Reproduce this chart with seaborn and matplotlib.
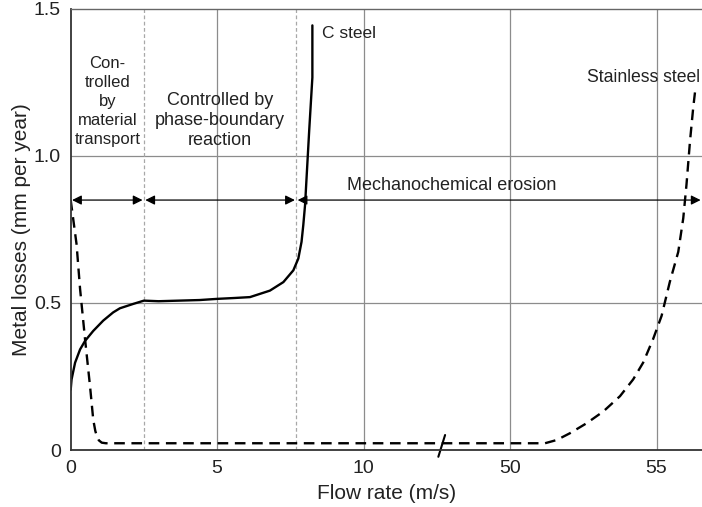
import numpy as np
import matplotlib
matplotlib.use('Agg')
import matplotlib.pyplot as plt
import seaborn as sns

# Values (flow rate in m/s, losses in mm/year)
c_steel_x = [0, 0.03, 0.15, 0.32, 0.49, 0.77, 1.11, 1.45, 1.68, 2.14, 2.5, 3.0, 4.4,
             5.0, 5.6, 6.12, 6.8, 7.26, 7.6, 7.77, 7.88, 7.94, 8.0, 8.14, 8.25, 8.25]
c_steel_y = [0.205, 0.24, 0.297, 0.342, 0.371, 0.405, 0.44, 0.468, 0.482, 0.497, 0.508,
             0.506, 0.51, 0.514, 0.517, 0.52, 0.542, 0.571, 0.611, 0.651, 0.708, 0.765,
             0.833, 1.084, 1.267, 1.444]

stainless_x = [0, 0.2, 0.32, 0.49, 0.66, 0.77, 0.84, 0.89, 0.96, 1.06, 1.2, 10, 47.5,
               51.19, 51.59, 52.04, 52.61, 53.18, 53.75, 54.2, 54.54, 54.88, 55.17,
               55.45, 55.74, 55.91, 56.02, 56.14, 56.25, 56.31]
stainless_y = [0.85, 0.70, 0.548, 0.377, 0.217, 0.103, 0.065, 0.048, 0.033, 0.025, 0.023,
               0.023, 0.023, 0.023, 0.034, 0.057, 0.091, 0.131, 0.183, 0.24, 0.297,
               0.377, 0.456, 0.571, 0.674, 0.788, 0.902, 1.05, 1.164, 1.216]

x_ticks = [0, 5, 10, 50, 55]
x_ticklabels = ['0', '5', '10', '50', '55']
y_ticks = [0, 0.5, 1.0, 1.5]
y_ticklabels = ['0', '0.5', '1.0', '1.5']

# regime boundaries (m/s) and arrow height
boundaries = [2.5, 7.7]
arrow_y = 0.85
x_end = 56.55

sns.set_style('white')
plt.rcParams['font.family'] = ['Liberation Sans', 'DejaVu Sans']


# broken x axis: 12.5..47.5 m/s is cut out
def fwd(x):
    x = np.asarray(x, dtype=float)
    return np.where(x <= 12.5, x, np.maximum(x - 35, 12.5))


def inv(x):
    x = np.asarray(x, dtype=float)
    return np.where(x <= 12.5, x, x + 35)


fig = plt.figure(figsize=(7.02, 5.07), dpi=100)
ax = fig.add_axes([0.1007, 0.1124, 0.8993, 0.87])
ax.set_xscale('function', functions=(fwd, inv))

# grid
for xv in [5, 10, 50, 55]:
    ax.axvline(xv, color='#8c8c8c', lw=0.9, zorder=0)
for yv in [0.5, 1.0]:
    ax.axhline(yv, color='#8c8c8c', lw=0.9, zorder=0)
for xv in boundaries:
    ax.axvline(xv, color='#a8a8a8', lw=0.9, ls=(0, (3, 2)), zorder=0)

sns.lineplot(x=c_steel_x, y=c_steel_y, sort=False, estimator=None, color='black',
             lw=1.7, ax=ax)
sns.lineplot(x=stainless_x, y=stainless_y, sort=False, estimator=None, color='black',
             lw=1.7, ax=ax)
ax.lines[-1].set_dashes((4.5, 2.8))

# regime arrows
spans = [(0, boundaries[0]), (boundaries[0], boundaries[1]), (boundaries[1], x_end)]
for a, b in spans:
    ax.annotate('', xy=(a, arrow_y), xytext=(b, arrow_y),
                arrowprops=dict(arrowstyle='<|-|>', color='black', lw=0.9,
                                mutation_scale=14, shrinkA=1, shrinkB=1),
                annotation_clip=False)

# axis break mark
ax.plot([47.55, 47.78], [-0.023, 0.051], color='black', lw=1.5, clip_on=False)

txt = dict(ha='center', va='center', color='#222222')
ax.text(1.25, 1.185, 'Con-\ntrolled\nby\nmaterial\ntransport', fontsize=12,
        linespacing=1.35, **txt)
ax.text(5.1, 1.12, 'Controlled by\nphase-boundary\nreaction', fontsize=13,
        linespacing=1.25, **txt)
ax.text(48.0, 0.90, 'Mechanochemical erosion', fontsize=13, **txt)
ax.text(8.57, 1.418, 'C steel', ha='left', va='center', fontsize=12.5, color='#222222')
ax.text(56.48, 1.267, 'Stainless steel', ha='right', va='center', fontsize=12.7,
        color='#222222')

ax.set_xlim(0, x_end)
ax.set_ylim(0, 1.5)
ax.set_xticks(x_ticks)
ax.set_xticklabels(x_ticklabels)
ax.set_yticks(y_ticks)
ax.set_yticklabels(y_ticklabels)
ax.minorticks_off()
ax.tick_params(length=0, labelsize=14, colors='#222222', pad=7)
ax.set_xlabel('Flow rate (m/s)', fontsize=15, color='#222222', labelpad=5)
ax.set_ylabel('Metal losses (mm per year)', fontsize=15, color='#222222', labelpad=2)

for side in ['left', 'bottom']:
    ax.spines[side].set_color('#333333')
    ax.spines[side].set_linewidth(1.3)
ax.spines['top'].set_color('#666666')
ax.spines['top'].set_linewidth(1.0)
ax.spines['right'].set_visible(False)

fig.savefig('out.png', dpi=100)
